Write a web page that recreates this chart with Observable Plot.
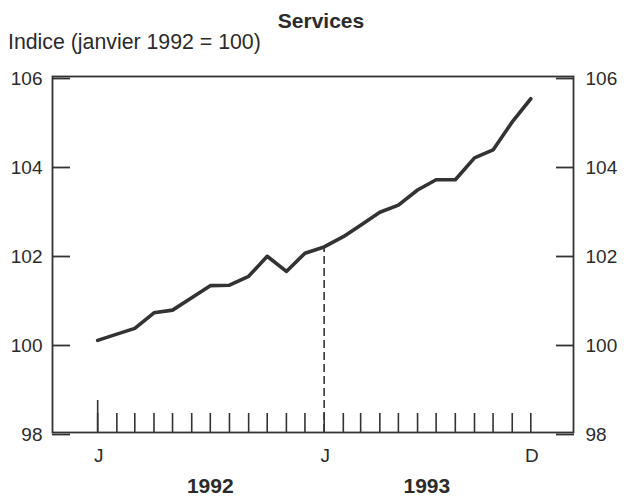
<!DOCTYPE html>
<html>
<head>
<meta charset="utf-8">
<script src="https://cdn.jsdelivr.net/npm/d3@7"></script>
<script src="https://cdn.jsdelivr.net/npm/@observablehq/plot@0.6"></script>
<style>
  html, body { margin: 0; padding: 0; background: #ffffff; }
  body { font-family: "Liberation Sans", Arial, Helvetica, sans-serif; color: #2b2b2b; }
  #wrap { position: relative; width: 624px; height: 503px; overflow: hidden; }
  #title { position: absolute; left: 0; width: 642px; top: 10px; text-align: center;
           font-weight: bold; font-size: 21px; line-height: 21px; }
  #subtitle { position: absolute; left: 8px; top: 32px; font-size: 21.3px; line-height: 21px; }
  #chart { position: absolute; left: 0; top: 60px; }
</style>
</head>
<body>
<div id="wrap">
  <div id="title">Services</div>
  <div id="subtitle">Indice (janvier 1992 = 100)</div>
  <div id="chart"></div>
</div>
<script>
// Months (January 1992 – December 1993)
const months = [
  "1992-01-01","1992-02-01","1992-03-01","1992-04-01","1992-05-01","1992-06-01",
  "1992-07-01","1992-08-01","1992-09-01","1992-10-01","1992-11-01","1992-12-01",
  "1993-01-01","1993-02-01","1993-03-01","1993-04-01","1993-05-01","1993-06-01",
  "1993-07-01","1993-08-01","1993-09-01","1993-10-01","1993-11-01","1993-12-01"
];
// Services price index (January 1992 = 100)
const values = [
  100.07, 100.21, 100.34, 100.69, 100.75, 101.03,
  101.30, 101.31, 101.51, 101.96, 101.62, 102.03,
  102.17, 102.40, 102.66, 102.95, 103.11, 103.45,
  103.68, 103.68, 104.17, 104.35, 104.98, 105.50
];
const yTicks = [98, 100, 102, 104, 106];
const monthLabelDates = ["1992-01-01", "1993-01-01", "1993-12-01"];
const monthLabelTexts = ["J", "J", "D"];
const yearLabelDates = ["1992-07-01", "1993-06-16"];
const yearLabelTexts = ["1992", "1993"];
const markerMonth = "1993-01-01";
const firstMonth = "1992-01-01";

const parse = d3.utcParse("%Y-%m-%d");
const series = months.map((m, i) => ({date: parse(m), value: values[i]}));
const monthDates = months.map(parse);
const markerValue = values[months.indexOf(markerMonth)];
const monthLabels = monthLabelDates.map((d, i) => ({date: parse(d), text: monthLabelTexts[i]}));
const yearLabels = yearLabelDates.map((d, i) => ({date: parse(d), text: yearLabelTexts[i]}));

const ink = "#333333";

const chart = Plot.plot({
  width: 624,
  height: 443,
  marginLeft: 52,
  marginRight: 51,
  marginTop: 16,
  marginBottom: 71,
  style: {
    fontFamily: '"Liberation Sans", Arial, Helvetica, sans-serif',
    fontSize: "19px",
    color: "#2b2b2b",
    background: "transparent",
    overflow: "visible"
  },
  x: {type: "utc", domain: [parse("1991-10-20"), parse("1994-02-08")], axis: null, label: null},
  y: {domain: [98, 106], axis: null, label: null},
  marks: [
    Plot.frame({stroke: ink, strokeWidth: 1.8}),
    // left axis (inward ticks)
    Plot.axisY(yTicks, {anchor: "left", label: null, tickSize: -18, tickPadding: 28, strokeWidth: 1.8, stroke: ink, dy: 2, fontSize: 19}),
    // right axis (inward ticks)
    Plot.axisY(yTicks, {anchor: "right", label: null, tickSize: -18, tickPadding: 30, strokeWidth: 1.8, stroke: ink, dy: 2, fontSize: 19}),
    // monthly ticks along the bottom, pointing up
    Plot.axisX(monthDates, {anchor: "bottom", label: null, tickSize: -19, tickFormat: () => "", strokeWidth: 1.6, stroke: ink}),
    // taller tick at the start
    Plot.axisX([parse(firstMonth)], {anchor: "bottom", label: null, tickSize: -32, tickFormat: () => "", strokeWidth: 1.6, stroke: ink}),
    // month letters
    Plot.text(monthLabels, {x: "date", text: "text", frameAnchor: "bottom", dy: 29, dx: 1, fontSize: 19, fill: "#2b2b2b"}),
    // years
    Plot.text(yearLabels, {x: "date", text: "text", frameAnchor: "bottom", dy: 60, fontSize: 21, fontWeight: "bold", fill: "#2b2b2b"}),
    // dashed marker at January 1993
    Plot.ruleX([parse(markerMonth)], {x: d => d, y1: 98, y2: markerValue, stroke: ink, strokeWidth: 1.6, strokeDasharray: "8,4"}),
    // the series
    Plot.line(series, {x: "date", y: "value", stroke: ink, strokeWidth: 3.6, strokeLinejoin: "round", strokeLinecap: "round"})
  ]
});
document.getElementById("chart").appendChild(chart);
</script>
</body>
</html>
